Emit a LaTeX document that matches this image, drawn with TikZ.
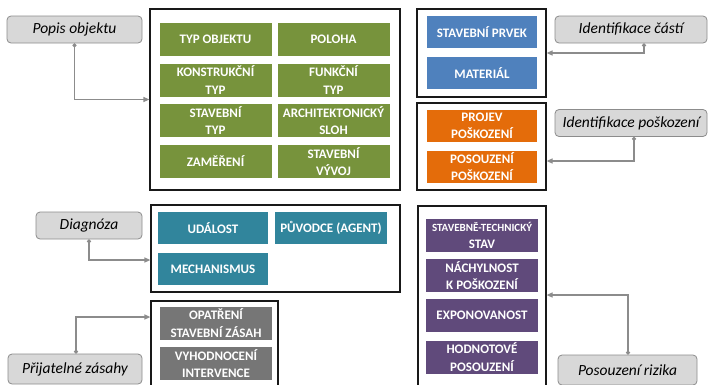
\documentclass[tikz,border=0pt]{standalone}
\usepackage{fontspec}
\setmainfont{Carlito}
\usetikzlibrary{arrows.meta}
\definecolor{cgreen}{HTML}{77933C}
\definecolor{cblue}{HTML}{4F81BD}
\definecolor{corange}{HTML}{E46C0A}
\definecolor{cteal}{HTML}{31859C}
\definecolor{cpurple}{HTML}{604A7B}
\definecolor{cgrey}{HTML}{767676}
\definecolor{clabel}{HTML}{D8D8D8}
\definecolor{cline}{HTML}{8C8C8C}
\tikzset{
  cell/.style={draw=none, inner sep=0pt, align=center, text=white,
    font=\fontsize{13}{17.5}\selectfont\bfseries, minimum height=33pt},
  gcell/.style={cell, fill=cgreen, minimum width=112pt},
  bcell/.style={cell, fill=cblue, minimum width=110pt, minimum height=32pt},
  ocell/.style={cell, fill=corange, minimum width=110pt, minimum height=32pt},
  tcell/.style={cell, fill=cteal, minimum width=110pt, minimum height=32pt},
  pcell/.style={cell, fill=cpurple, minimum width=112pt},
  ycell/.style={cell, fill=cgrey, minimum width=112pt},
  frame/.style={draw=black!90, line width=1.2pt, inner sep=0pt},
  tag/.style={draw=cline, fill=clabel, line width=0.8pt, rounded corners=4pt,
    inner sep=0pt, minimum height=27pt, font=\fontsize{15.5}{18}\selectfont\itshape},
  link/.style={draw=cline, line width=1.2pt,
    {Circle[length=4pt]}-{Triangle[length=6pt,width=5pt]}},
}
\begin{document}
\begin{tikzpicture}[x=1pt,y=-1pt]
\useasboundingbox (0,0) rectangle (709,384);
\clip (0,0) rectangle (709,384);
\fill[white] (0,0) rectangle (709,384);

% object description
\node[frame, minimum width=250pt, minimum height=181pt] (box1) at (275,99.5) {};
\node[gcell] (g1) at (215.5,39.5) {TYP OBJEKTU};
\node[gcell] (g2) at (333.5,39.5) {POLOHA};
\node[gcell] (g3) at (215.5,80) {KONSTRUKČNÍ\\TYP};
\node[gcell] (g4) at (333.5,80) {FUNKČNÍ\\TYP};
\node[gcell] (g5) at (215.5,120.5) {STAVEBNÍ\\TYP};
\node[gcell] (g6) at (333.5,120.5) {ARCHITEKTONICKÝ\\SLOH};
\node[gcell] (g7) at (215.5,161.5) {ZAMĚŘENÍ};
\node[gcell] (g8) at (333.5,161.5) {STAVEBNÍ\\VÝVOJ};

% parts
\node[frame, minimum width=129pt, minimum height=88pt] (box2) at (481.5,53) {};
\node[bcell] (b1) at (482,32) {STAVEBNÍ PRVEK};
\node[bcell] (b2) at (482,73) {MATERIÁL};

% damage
\node[frame, minimum width=129pt, minimum height=87pt] (box3) at (481.5,146.5) {};
\node[ocell] (o1) at (482,126) {PROJEV\\POŠKOZENÍ};
\node[ocell] (o2) at (482,166.5) {POSOUZENÍ\\POŠKOZENÍ};

% diagnosis
\node[frame, minimum width=249pt, minimum height=87pt] (box4) at (275.5,248.5) {};
\node[tcell] (t1) at (213,228) {UDÁLOST};
\node[tcell, minimum width=112pt] (t2) at (331,228) {PŮVODCE (AGENT)};
\node[tcell] (t3) at (213,269) {MECHANISMUS};

% interventions
\node[frame, minimum width=127pt, minimum height=110pt] (box5) at (214.5,356) {};
\node[ycell] (y1) at (216,323) {OPATŘENÍ\\STAVEBNÍ ZÁSAH};
\node[ycell] (y2) at (216,363.5) {VYHODNOCENÍ\\INTERVENCE};

% risk
\node[frame, minimum width=128pt, minimum height=200pt] (box6) at (482,306) {};
\node[pcell] (p1) at (482,235.5) {\fontsize{11}{17.5}\selectfont STAVEBNĚ-TECHNICKÝ\\STAV};
\node[pcell] (p2) at (482,275.5) {NÁCHYLNOST\\K POŠKOZENÍ};
\node[pcell] (p3) at (482,315.5) {EXPONOVANOST};
\node[pcell] (p4) at (482,357) {HODNOTOVÉ\\POSOUZENÍ};

% labels
\node[tag, minimum width=135pt] (popis) at (74.5,29.5) {Popis objektu};
\node[tag, minimum width=152pt] (idc) at (631,29.5) {Identifikace částí};
\node[tag, minimum width=152pt] (idp) at (631,123) {Identifikace poškození};
\node[tag, minimum width=106pt] (diag) at (89,225.5) {Diagnóza};
\node[tag, minimum width=134pt, minimum height=30pt] (prij) at (75,369) {Přijatelné zásahy};
\node[tag, minimum width=139pt, minimum height=30pt] (riz) at (627.5,370) {Posouzení rizika};

% connectors
\draw[link] (popis.south) |- (box1.west);
\draw[link] ([xshift=13pt]idc.south) |- (box2.east);
\draw[link] ([xshift=3pt]idp.south) |- ([yshift=-14.5pt]box3.east);
\draw[link] (diag.south) |- ([yshift=-11.5pt]box4.west);
\draw[link] ([xshift=1pt]prij.north) |- ([yshift=39pt]box5.west);
\draw[link] ([xshift=0.5pt]riz.north) |- ([yshift=11pt]box6.east);
\end{tikzpicture}
\end{document}
